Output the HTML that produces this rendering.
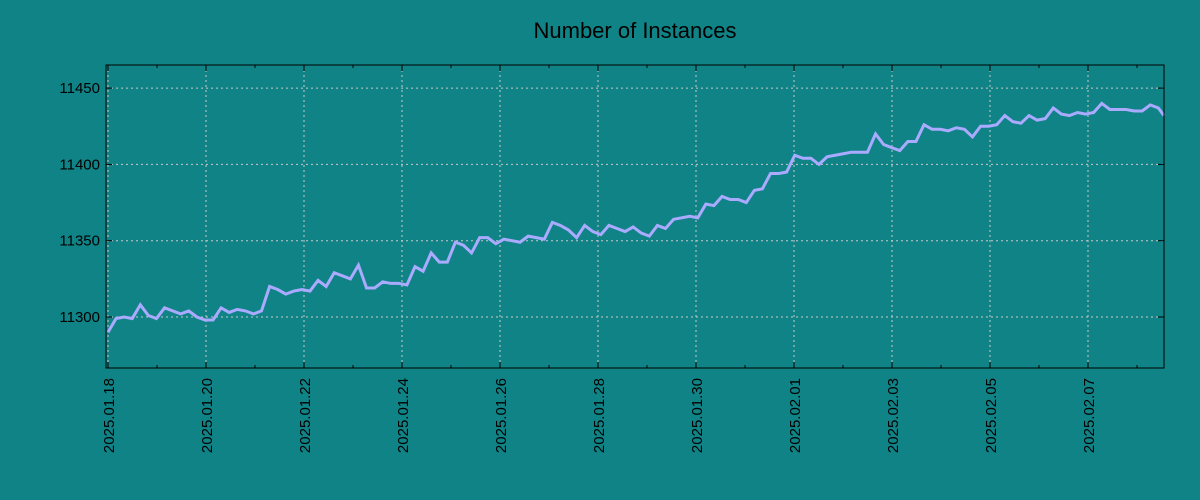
<!DOCTYPE html>
<html><head><meta charset="utf-8"><style>
html,body{margin:0;padding:0;background:#108386;}
svg{display:block;font-family:"Liberation Sans","DejaVu Sans",sans-serif;}
</style></head><body>
<svg width="1200" height="500">
<rect width="1200" height="500" fill="#108386"/>
<text x="635" y="38" font-size="22" text-anchor="middle">Number of Instances</text>
<g id="grid"></g><g id="series"></g><g id="axes"></g>
</svg>
<script>
const values=[11290,11299,11300,11299,11308,11301,11299,11306,11304,11302,11304,11300,11298,11298,11306,11303,11305,11304,11302,11304,11320,11318,11315,11317,11318,11317,11324,11320,11329,11327,11325,11334,11319,11319,11323,11322,11322,11321,11333,11330,11342,11336,11336,11349,11347,11342,11352,11352,11348,11351,11350,11349,11353,11352,11351,11362,11360,11357,11352,11360,11356,11354,11360,11358,11356,11359,11355,11353,11360,11358,11364,11365,11366,11365,11374,11373,11379,11377,11377,11375,11383,11384,11394,11394,11395,11406,11404,11404,11400,11405,11406,11407,11408,11408,11408,11420,11413,11411,11409,11415,11415,11426,11423,11423,11422,11424,11423,11418,11425,11425,11426,11432,11428,11427,11432,11429,11430,11437,11433,11432,11434,11433,11434,11440,11436,11436,11436,11435,11435,11439,11437,11432];
const xTickLabels=["2025.01.18","2025.01.20","2025.01.22","2025.01.24","2025.01.26","2025.01.28","2025.01.30","2025.02.01","2025.02.03","2025.02.05","2025.02.07"];
const yTicks=[11300,11350,11400,11450];
const L=106,R=1164,T=65,B=368;
const spanDays=21.6;
const xs=d=>108+d*49;
const ys=v=>317-(v-11300)*76.3/50;
const NS="http://www.w3.org/2000/svg";
function mk(tag,attrs,parent){const e=document.createElementNS(NS,tag);for(const k in attrs)e.setAttribute(k,attrs[k]);parent.appendChild(e);return e;}
const grid=document.getElementById('grid'),ser=document.getElementById('series'),ax=document.getElementById('axes');
xTickLabels.forEach((lab,i)=>{
  const x=xs(i*2);
  const g=mk('line',{x1:x,x2:x,y1:T,y2:B,stroke:'#c8c8c8','stroke-dasharray':'2,3','stroke-width':1},grid);
  
  
  const t=mk('text',{x:x+6,y:378,'font-size':15,'text-anchor':'end',transform:`rotate(-90 ${x+6} 378)`},ax);
  t.textContent=lab;
  
  
  mk('line',{x1:x,x2:x,y1:B,y2:B-6,stroke:'#000'},ax);
  mk('line',{x1:x,x2:x,y1:T,y2:T+6,stroke:'#000'},ax);
});
for(let d=1;d<22;d+=2){const x=xs(d);if(x<R){mk('line',{x1:x,x2:x,y1:B,y2:B-3,stroke:'#000'},ax);mk('line',{x1:x,x2:x,y1:T,y2:T+3,stroke:'#000'},ax);}}
yTicks.forEach(v=>{
  const y=ys(v);
  const g=mk('line',{x1:L,x2:R,y1:y,y2:y,stroke:'#c8c8c8','stroke-dasharray':'2,3','stroke-width':1},grid);
  
  
  const t=mk('text',{x:L-6,y:y+5,'font-size':15,'text-anchor':'end'},ax);
  t.textContent=v;
  
  
  mk('line',{x1:L,x2:L+6,y1:y,y2:y,stroke:'#000'},ax);
  mk('line',{x1:R,x2:R-6,y1:y,y2:y,stroke:'#000'},ax);
});
const step=spanDays/(values.length-1);
const pts=values.map((v,i)=>[Math.min(R,xs(i*step)),ys(v)]);
pts[0][0]=Math.max(L,pts[0][0]);
const pl=mk('polyline',{points:pts.map(p=>p.join(',')).join(' '),fill:'none',stroke:'#aaaaff','stroke-width':3,'stroke-linejoin':'miter'},ser);


const fr=mk('rect',{x:L,y:T,width:R-L,height:B-T,fill:'none',stroke:'#000','stroke-width':1},ax);


</script>
</body></html>
